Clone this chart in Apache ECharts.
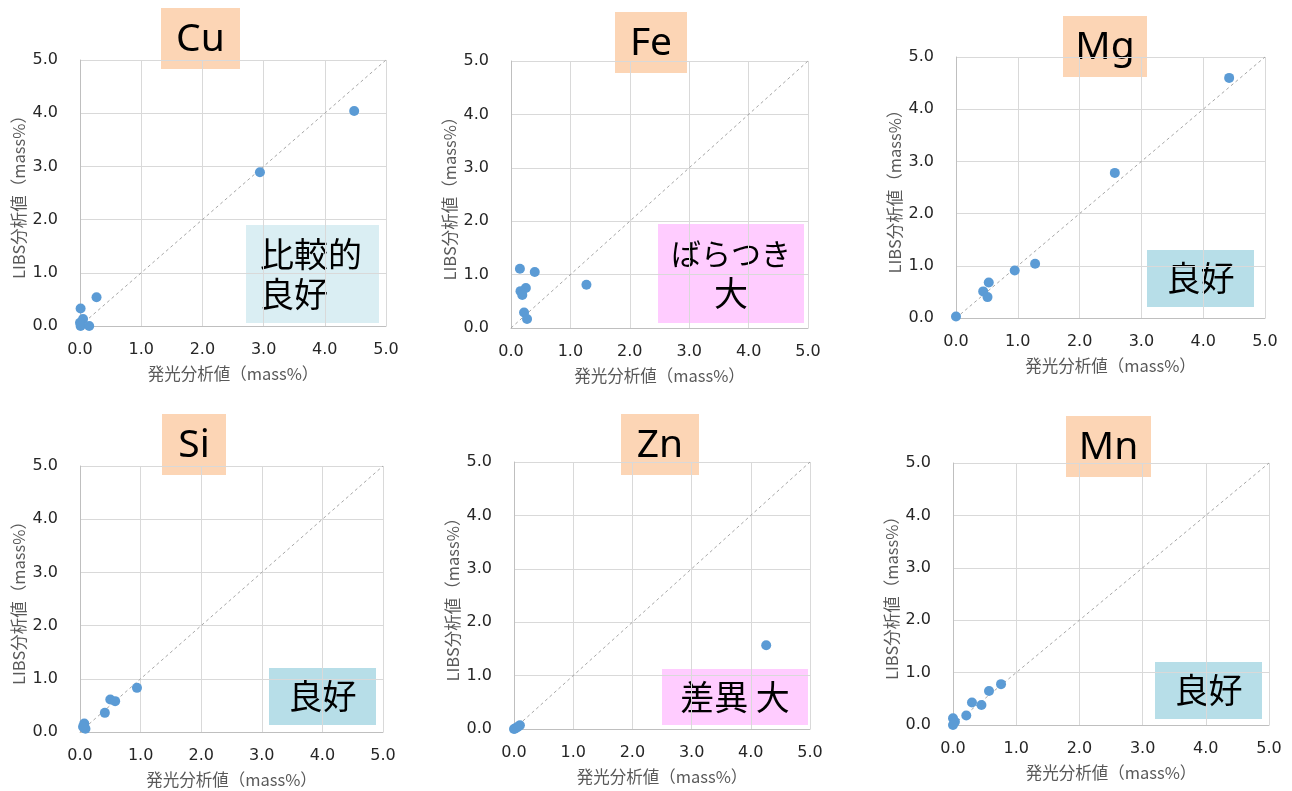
<!DOCTYPE html>
<html>
<head>
<meta charset="utf-8">
<script src="https://cdn.jsdelivr.net/npm/echarts@6/dist/echarts.min.js"></script>
<style>
html,body{margin:0;padding:0;background:#fff;}
#chart{width:1292px;height:791px;}
</style>
</head>
<body>
<div id="chart"></div>
<script>
// ---- data ----
const elements = ['Cu', 'Fe', 'Mg', 'Si', 'Zn', 'Mn'];
const verdicts = [['比較的', '良好'], ['ばらつき', '大'], ['良好'], ['良好'], ['差異 大'], ['良好']];
const xAxisName = '発光分析値（mass%）';
const yAxisName = 'LIBS分析値（mass%）';
const tickValues = [0, 1, 2, 3, 4, 5];

const cuX = [4.48, 2.94, 0.27, 0.01, 0.05, 0.00, 0.01, 0.15];
const cuY = [4.04, 2.89, 0.54, 0.33, 0.13, 0.06, 0.00, 0.00];
const feX = [0.15, 0.40, 1.27, 0.25, 0.16, 0.19, 0.22, 0.27];
const feY = [1.11, 1.05, 0.81, 0.75, 0.69, 0.62, 0.29, 0.17];
const mgX = [4.42, 2.57, 1.28, 0.95, 0.53, 0.44, 0.51, 0.00];
const mgY = [4.60, 2.78, 1.04, 0.91, 0.68, 0.51, 0.40, 0.03];
const siX = [0.94, 0.50, 0.58, 0.41, 0.07, 0.07, 0.09, 0.05];
const siY = [0.83, 0.61, 0.58, 0.36, 0.16, 0.08, 0.06, 0.10];
const znX = [4.26, 0.00, 0.02, 0.05, 0.08, 0.10];
const znY = [1.57, 0.00, 0.01, 0.03, 0.05, 0.07];
const mnX = [0.76, 0.57, 0.30, 0.45, 0.21, 0.00, 0.03, 0.00];
const mnY = [0.78, 0.65, 0.43, 0.38, 0.18, 0.13, 0.06, 0.00];
const diagonalX = [0, 5];
const diagonalY = [0, 5];

const seriesX = [cuX, feX, mgX, siX, znX, mnX];
const seriesY = [cuY, feY, mgY, siY, znY, mnY];

// ---- layout (positions / styles) ----
const grids = [
  {left: 80,  top: 60,  width: 306, height: 266},
  {left: 511, top: 61,  width: 297, height: 267},
  {left: 956, top: 57,  width: 309, height: 261},
  {left: 80,  top: 466, width: 303, height: 266},
  {left: 514, top: 462, width: 296, height: 267},
  {left: 953, top: 463, width: 316, height: 262}
];
const titleBoxes = [
  [161, 8, 79, 61], [615, 12, 72, 61], [1063, 16, 84, 61],
  [162, 414, 64, 61], [621, 414, 78, 61], [1066, 416, 85, 61]
];
const verdictBoxes = [
  {r: [246, 225, 133, 98], fill: '#DAEEF3', align: 'left', tx: 260, sizes: [34, 34]},
  {r: [658, 224, 146, 99], fill: '#FFCCFF', align: 'center', sizes: [30, 34]},
  {r: [1147, 250, 107, 57], fill: '#B7DEE8', align: 'center', sizes: [34]},
  {r: [269, 668, 107, 57], fill: '#B7DEE8', align: 'center', sizes: [34]},
  {r: [662, 669, 146, 56], fill: '#FFCCFF', align: 'center', sizes: [34]},
  {r: [1155, 662, 107, 57], fill: '#B7DEE8', align: 'center', sizes: [34]}
];

const numFont = 'DejaVu Sans';
const cjkFont = '"Noto Sans CJK JP", sans-serif';

function verdictText(b, i) {
  const lines = verdicts[i];
  const lh = 40;
  const cx = b.align === 'left' ? b.tx : b.r[0] + b.r[2] / 2;
  const cy = b.r[1] + b.r[3] / 2;
  const y0 = cy - (lines.length - 1) * lh / 2;
  return lines.map((t, k) => ({
    type: 'text',
    style: {x: cx, y: y0 + k * lh, text: t,
      font: b.sizes[k] + 'px ' + cjkFont, fill: '#000',
      textAlign: b.align, textVerticalAlign: 'middle'}
  }));
}

const option = {
  backgroundColor: '#ffffff',
  animation: false,
  grid: grids.map(g => Object.assign({containLabel: false}, g)),
  xAxis: grids.map((g, i) => ({
    type: 'value', gridIndex: i, min: 0, max: 5, interval: 1,
    name: xAxisName, nameLocation: 'middle', nameGap: 39,
    nameTextStyle: {fontFamily: cjkFont, fontSize: 16.5, color: '#595959'},
    axisLine: {show: true, onZero: false, lineStyle: {color: '#bfbfbf', width: 1}},
    axisTick: {show: false},
    axisLabel: {margin: 16, fontFamily: numFont, fontSize: 16, color: '#262626',
      formatter: v => tickValues.includes(v) ? v.toFixed(1) : ''},
    splitLine: {show: true, lineStyle: {color: '#d9d9d9', width: 1}}
  })),
  yAxis: grids.map((g, i) => ({
    type: 'value', gridIndex: i, min: 0, max: 5, interval: 1,
    name: yAxisName, nameLocation: 'middle', nameGap: 53, nameRotate: 90,
    nameTextStyle: {fontFamily: cjkFont, fontSize: 16.5, color: '#595959'},
    axisLine: {show: true, onZero: false, lineStyle: {color: '#bfbfbf', width: 1}},
    axisTick: {show: false},
    axisLabel: {margin: 22, fontFamily: numFont, fontSize: 16, color: '#262626',
      formatter: v => tickValues.includes(v) ? v.toFixed(1) : ''},
    splitLine: {show: true, lineStyle: {color: '#d9d9d9', width: 1}}
  })),
  series: [].concat(
    grids.map((g, i) => ({
      type: 'line', xAxisIndex: i, yAxisIndex: i, silent: true,
      data: diagonalX.map((v, k) => [v, diagonalY[k]]),
      symbol: 'none', clip: false,
      lineStyle: {color: '#a6a6a6', width: 1, type: [3, 3]}, z: 2
    })),
    grids.map((g, i) => ({
      type: 'scatter', xAxisIndex: i, yAxisIndex: i,
      data: seriesX[i].map((v, k) => [v, seriesY[i][k]]),
      symbol: 'circle', symbolSize: 10, clip: false,
      itemStyle: {color: '#5B9BD5', opacity: 1}, z: 3
    }))
  ),
  graphic: [].concat(
    titleBoxes.map((b, i) => ({
      type: 'group', z: 10,
      children: [
        {type: 'rect', shape: {x: b[0], y: b[1], width: b[2], height: b[3]},
          style: {fill: '#FCD5B5'}},
        {type: 'text', style: {x: b[0] + b[2] / 2, y: b[1] + b[3] / 2 + 1,
          text: elements[i], font: '39px "Noto Sans", sans-serif', fill: '#000',
          textAlign: 'center', textVerticalAlign: 'middle'}}
      ]
    })),
    verdictBoxes.map((b, i) => ({
      type: 'group', z: 10,
      children: [
        {type: 'rect', shape: {x: b.r[0], y: b.r[1], width: b.r[2], height: b.r[3]},
          style: {fill: b.fill}}
      ].concat(verdictText(b, i))
    }))
  )
};

const chart = echarts.init(document.getElementById('chart'), null, {renderer: 'canvas'});
chart.setOption(option);
</script>
</body>
</html>
